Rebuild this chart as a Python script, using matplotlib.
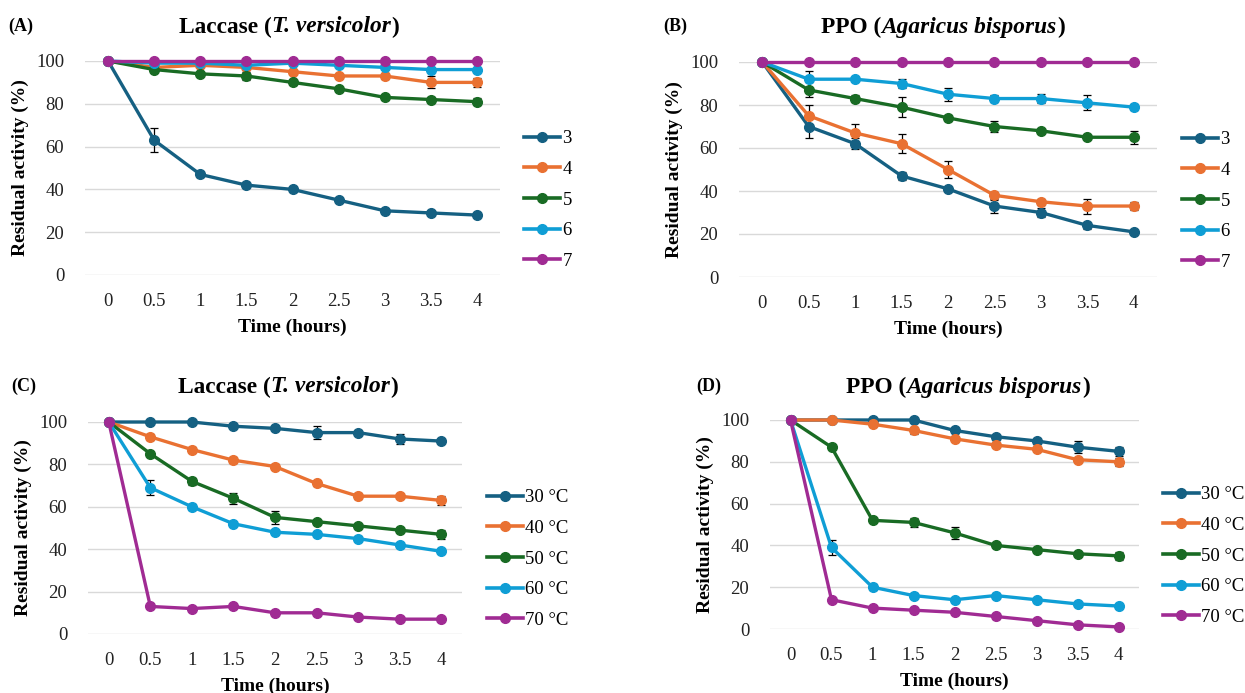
import numpy as np
import matplotlib
matplotlib.use("Agg")
import matplotlib.pyplot as plt
from matplotlib.lines import Line2D

plt.rcParams['font.family'] = ['Liberation Serif', 'DejaVu Serif']

# =============================================================================
# DATA
# =============================================================================

time_labels = ['0', '0.5', '1', '1.5', '2', '2.5', '3', '3.5', '4']

ph_labels = ['3', '4', '5', '6', '7']
temp_labels = ['30 °C', '40 °C', '50 °C', '60 °C', '70 °C']

# (A) Laccase, pH stability
lac_ph = [
    [100, 63, 47, 42, 40, 35, 30, 29, 28],
    [100, 97, 98, 97, 95, 93, 93, 90, 90],
    [100, 96, 94, 93, 90, 87, 83, 82, 81],
    [100, 99, 99, 98, 99, 98, 97, 96, 96],
    [100, 100, 100, 100, 100, 100, 100, 100, 100],
]
lac_ph_err = [
    [0, 5.5, 1, 1.5, 1, 1, 1, 1, 1],
    [0, 1, 1, 1, 1, 1, 1.2, 2.8, 2],
    [0, 1.2, 1, 1.8, 1, 1, 1, 1, 1.5],
    [0, 0.5, 0.5, 1, 0.5, 0.5, 0.5, 0.5, 0.5],
    [0, 0, 0, 0, 0, 0, 0, 0, 0],
]

# (B) PPO, pH stability
ppo_ph = [
    [100, 70, 62, 47, 41, 33, 30, 24, 21],
    [100, 75, 67, 62, 50, 38, 35, 33, 33],
    [100, 87, 83, 79, 74, 70, 68, 65, 65],
    [100, 92, 92, 90, 85, 83, 83, 81, 79],
    [100, 100, 100, 100, 100, 100, 100, 100, 100],
]
ppo_ph_err = [
    [0, 5.5, 2.5, 2, 1, 3, 2, 1.5, 0.5],
    [0, 5, 4, 4.5, 4, 1.5, 1.5, 3.5, 2],
    [0, 3.5, 1.5, 4.5, 1.5, 2.5, 1, 1, 3],
    [0, 4, 1, 2, 3, 1.5, 2, 3.5, 1.5],
    [0, 0, 0, 0, 0, 0, 0, 0, 0],
]

# (C) Laccase, thermal stability
lac_t = [
    [100, 100, 100, 98, 97, 95, 95, 92, 91],
    [100, 93, 87, 82, 79, 71, 65, 65, 63],
    [100, 85, 72, 64, 55, 53, 51, 49, 47],
    [100, 69, 60, 52, 48, 47, 45, 42, 39],
    [100, 13, 12, 13, 10, 10, 8, 7, 7],
]
lac_t_err = [
    [0, 0.5, 0.5, 1, 1, 3, 1, 2.5, 1],
    [0, 1.5, 1, 1.5, 1, 1, 1.5, 1, 2],
    [0, 1, 1.5, 2.5, 3, 1, 1, 1, 2],
    [0, 3.5, 1.5, 1, 1, 1, 1, 1, 1],
    [0, 0.5, 0.5, 0.5, 0.5, 0.5, 0.5, 0.5, 0.5],
]

# (D) PPO, thermal stability
ppo_t = [
    [100, 100, 100, 100, 95, 92, 90, 87, 85],
    [100, 100, 98, 95, 91, 88, 86, 81, 80],
    [100, 87, 52, 51, 46, 40, 38, 36, 35],
    [100, 39, 20, 16, 14, 16, 14, 12, 11],
    [100, 14, 10, 9, 8, 6, 4, 2, 1],
]
ppo_t_err = [
    [0, 0.5, 0.5, 0.5, 1, 1, 1.5, 3, 2],
    [0, 0.5, 1, 1.5, 1, 1, 1, 1, 2],
    [0, 1, 1, 2, 3, 1, 1, 1, 2],
    [0, 3.5, 1.5, 1, 1, 1, 1, 1, 1],
    [0, 1, 1, 1, 1, 1, 1, 1, 1],
]

colors = ['#156082', '#E97132', '#196B24', '#0F9ED5', '#A02B93']

lac_title = [('Laccase (', 'normal'), ('T. versicolor', 'italic'), (')', 'normal')]
ppo_title = [('PPO (', 'normal'), ('Agaricus bisporus', 'italic'), (')', 'normal')]

# =============================================================================
# PLOTTING
# =============================================================================

W, H = 1245, 693
fig = plt.figure(figsize=(W / 100, H / 100), dpi=100)
renderer = fig.canvas.get_renderer()


def px_axes(left, right, top, bottom):
    return fig.add_axes([left / W, 1 - bottom / H, (right - left) / W, (bottom - top) / H])


def rich_title(parts, cx, cy, size=16.8):
    """Bold title made of upright / italic pieces, centred at (cx, cy) pixels."""
    texts, widths = [], []
    for s, style in parts:
        t = fig.text(0, 1 - cy / H, s, fontsize=size, fontweight='bold',
                     fontstyle=style, ha='left', va='center')
        widths.append(t.get_window_extent(renderer).width)
        texts.append(t)
    x = cx - sum(widths) / 2
    for t, w in zip(texts, widths):
        t.set_x(x / W)
        x += w


def draw_panel(box, values, errors, labels, title, title_xy, tag_xy, tag, leg_xy):
    ax = px_axes(*box)
    x = np.arange(len(time_labels))
    handles = []
    for vals, errs, lab, col in zip(values, errors, labels, colors):
        ax.errorbar(x, vals, yerr=errs, color=col, lw=2.4, marker='o', ms=7,
                    ecolor='black', elinewidth=0.9, capsize=3, capthick=0.9,
                    clip_on=False, zorder=3)
        handles.append(Line2D([], [], color=col, lw=2.6, marker='o', ms=7, label=lab))
    ax.set_xlim(-0.5, len(time_labels) - 0.5)
    ax.set_ylim(0, 100)
    ax.set_yticks(range(0, 101, 20))
    ax.set_xticks(x)
    ax.set_xticklabels(time_labels)
    ax.grid(axis='y', color='#D9D9D9', lw=1.0)
    ax.set_axisbelow(True)
    for s in ax.spines.values():
        s.set_visible(False)
    ax.tick_params(length=0, labelsize=13.5, colors='#222222')
    ax.tick_params(axis='y', pad=15)
    ax.tick_params(axis='x', pad=13)
    ax.set_xlabel('Time (hours)', fontsize=14, fontweight='bold', labelpad=6)
    ax.set_ylabel('Residual activity (%)', fontsize=14, fontweight='bold', labelpad=5)

    ax.legend(handles=handles, loc='center left',
              bbox_to_anchor=(leg_xy[0] / W, 1 - leg_xy[1] / H),
              bbox_transform=fig.transFigure, frameon=False, fontsize=13.5,
              handlelength=1.9, handletextpad=0.15, labelspacing=0.72,
              borderpad=0, borderaxespad=0)

    rich_title(title, *title_xy)
    fig.text(tag_xy[0] / W, 1 - tag_xy[1] / H, tag, fontsize=13,
             fontweight='bold', ha='left', va='center')
    return ax


draw_panel((85, 500, 61, 275), lac_ph, lac_ph_err, ph_labels,
           lac_title, (289, 27), (8, 26), '(A)', (524, 200))
draw_panel((739, 1157, 62, 277), ppo_ph, ppo_ph_err, ph_labels,
           ppo_title, (943, 27), (663, 26), '(B)', (1182, 201))
draw_panel((88, 462, 422, 634), lac_t, lac_t_err, temp_labels,
           lac_title, (288, 387), (11, 386), '(C)', (487, 559))
draw_panel((770, 1139, 420, 629), ppo_t, ppo_t_err, temp_labels,
           ppo_title, (968, 387), (696, 386), '(D)', (1163, 556))

plt.savefig('out.png', dpi=100)
